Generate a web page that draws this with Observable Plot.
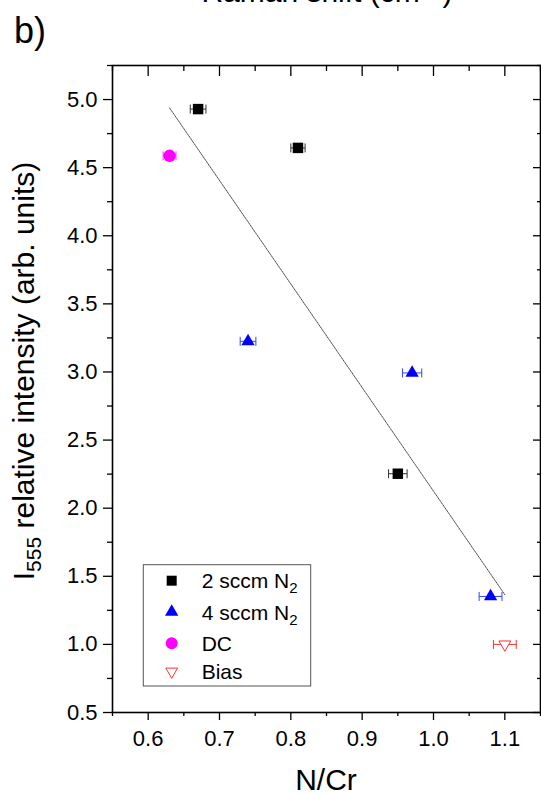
<!DOCTYPE html>
<html><head><meta charset="utf-8">
<script src="https://cdn.jsdelivr.net/npm/d3@7"></script>
<script src="https://cdn.jsdelivr.net/npm/@observablehq/plot@0.6"></script>
<style>html,body{margin:0;padding:0;background:#fff;} #chart svg{display:block;}</style>
</head><body><div id="chart"></div>
<script>
// ---- data ----
const seriesNames = ["2 sccm N", "4 sccm N", "DC", "Bias"];
const sccm2X = [0.67, 0.81, 0.95];
const sccm2Y = [4.93, 4.645, 2.253];
const sccm2Err = [0.011, 0.010, 0.013];
const sccm4X = [0.74, 0.97, 1.08];
const sccm4Y = [3.225, 2.993, 1.352];
const sccm4Err = [0.011, 0.0135, 0.016];
const dcX = [0.63];
const dcY = [4.587];
const dcErr = [0.009];
const biasX = [1.10];
const biasY = [1.0];
const biasErr = [0.016];
const xMajor = [0.6, 0.7, 0.8, 0.9, 1.0, 1.1];
const xMinor = [0.55, 0.65, 0.75, 0.85, 0.95, 1.05, 1.15];
const yMajor = [0.5, 1.0, 1.5, 2.0, 2.5, 3.0, 3.5, 4.0, 4.5, 5.0];
const yMinor = [0.75, 1.25, 1.75, 2.25, 2.75, 3.25, 3.75, 4.25, 4.75, 5.25];

const FONT = "'Liberation Sans', Arial, Helvetica, sans-serif";
const COLORS = {s2: "#000000", s4: "#0000ff", dc: "#ff00ff", bias: "#ff3030"};
const ERRCOL = {s2: "#333333", s4: "#3344ff", dc: "#ff33ff", bias: "#ee3333"};

function pts(xs, ys, es, key) { return xs.map((x, i) => ({x, y: ys[i], e: es[i], key})); }
const s2 = pts(sccm2X, sccm2Y, sccm2Err, "s2");
const s4 = pts(sccm4X, sccm4Y, sccm4Err, "s4");
const dc = pts(dcX, dcY, dcErr, "dc");
const bias = pts(biasX, biasY, biasErr, "bias");
const all = [...s2, ...s4, ...dc, ...bias];

const cap = {draw(ctx) { ctx.moveTo(0, -4.5); ctx.lineTo(0, 4.5); }};

function errMarks(data, key) {
  return [
    Plot.link(data, {x1: d => d.x - d.e, x2: d => d.x + d.e, y1: "y", y2: "y", stroke: ERRCOL[key], strokeWidth: 1}),
    Plot.dot(data, {x: d => d.x - d.e, y: "y", symbol: cap, fill: "none", stroke: ERRCOL[key], strokeWidth: 1}),
    Plot.dot(data, {x: d => d.x + d.e, y: "y", symbol: cap, fill: "none", stroke: ERRCOL[key], strokeWidth: 1})
  ];
}

const chart = Plot.plot({
  width: 541, height: 793,
  marginTop: 65, marginLeft: 112, marginRight: 1, marginBottom: 81,
  x: {domain: [0.55, 1.15]},
  y: {domain: [0.5, 5.25]},
  style: {fontFamily: FONT, color: "#000", background: "#fff", overflow: "visible"},
  marks: [
    Plot.axisX({ticks: xMajor, tickSize: 8, tickPadding: 10, tickFormat: d3.format(".1f"), fontSize: 22, label: null, strokeWidth: 1.3}),
    Plot.axisX({ticks: xMinor, tickSize: 4, tickFormat: () => "", label: null, strokeWidth: 1.3}),
    Plot.axisX({anchor: "top", ticks: xMajor, tickSize: -10, tickFormat: () => "", label: null, strokeWidth: 1.3}),
    Plot.axisX({anchor: "top", ticks: xMinor, tickSize: -5, tickFormat: () => "", label: null, strokeWidth: 1.3}),
    Plot.axisY({ticks: yMajor, tickSize: 9, tickPadding: 6, tickFormat: d3.format(".1f"), fontSize: 22, label: null, strokeWidth: 1.3}),
    Plot.axisY({ticks: yMinor, tickSize: 5, tickFormat: () => "", label: null, strokeWidth: 1.3}),
    Plot.axisY({anchor: "right", ticks: yMajor, tickSize: -8, tickFormat: () => "", label: null, strokeWidth: 1.3}),
    Plot.axisY({anchor: "right", ticks: yMinor, tickSize: -4, tickFormat: () => "", label: null, strokeWidth: 1.3}),
    Plot.linearRegressionY(all, {x: "x", y: "y", ci: 0, stroke: "#333", strokeWidth: 0.9, strokeDasharray: "1,1"}),
    ...errMarks(s2, "s2"),
    ...errMarks(s4, "s4"),
    ...errMarks(dc, "dc"),
    ...errMarks(bias, "bias"),
    Plot.dot(s2, {x: "x", y: "y", symbol: "square", r: 5.9, fill: COLORS.s2}),
    Plot.dot(s4, {x: "x", y: "y", symbol: "triangle", r: 4.95, fill: COLORS.s4}),
    Plot.dot(dc, {x: "x", y: "y", symbol: "circle", r: 6.2, fill: COLORS.dc}),
    Plot.dot(bias, {x: "x", y: "y", symbol: "triangle", rotate: 180, r: 4.4, fill: "#fff", stroke: COLORS.bias, strokeWidth: 1}),
    Plot.frame({stroke: "#000", strokeWidth: 1.6})
  ]
});
document.getElementById("chart").appendChild(chart);

// ---- annotations ----
const svg = d3.select(chart);
svg.append("text").attr("x", 14).attr("y", 43).attr("text-anchor", "start").attr("font-size", 36)
  .attr("font-family", FONT).attr("fill", "#000").text("b)");

const topTitle = svg.append("text").attr("x", 327).attr("y", 1.5).attr("text-anchor", "middle")
  .attr("font-size", 30).attr("font-family", FONT).attr("fill", "#000");
topTitle.append("tspan").text("Raman shift (cm");
topTitle.append("tspan").attr("font-size", 20).attr("dy", -12).text("−1");
topTitle.append("tspan").attr("dy", 12).text(")");

svg.append("text").attr("x", 326).attr("y", 790).attr("text-anchor", "middle")
  .attr("font-size", 30).attr("font-family", FONT).attr("fill", "#000").text("N/Cr");

const yt = svg.append("text").attr("transform", "translate(33.5,371) rotate(-90)").attr("text-anchor", "middle")
  .attr("font-size", 30).attr("font-family", FONT).attr("fill", "#000");
yt.append("tspan").text("I");
yt.append("tspan").attr("font-size", 21).attr("dy", 7).text("555");
yt.append("tspan").attr("dy", -7).text(" relative intensity (arb. units)");

// legend
const lg = svg.append("g").attr("font-family", FONT).attr("font-size", 21).attr("text-anchor", "start");
lg.append("rect").attr("x", 143.3).attr("y", 564.7).attr("width", 167.4).attr("height", 121.3)
  .attr("fill", "#fff").attr("stroke", "#555").attr("stroke-width", 1);
const legendRows = [
  {name: seriesNames[0], sub: "2", type: d3.symbolSquare, size: 100, fill: COLORS.s2, stroke: "none", rot: 0, cy: 580.7},
  {name: seriesNames[1], sub: "2", type: d3.symbolTriangle, size: 77, fill: COLORS.s4, stroke: "none", rot: 0, cy: 612},
  {name: seriesNames[2], sub: null, type: d3.symbolCircle, size: 113, fill: COLORS.dc, stroke: "none", rot: 0, cy: 643.3},
  {name: seriesNames[3], sub: null, type: d3.symbolTriangle, size: 60, fill: "#fff", stroke: COLORS.bias, rot: 180, cy: 671.5}
];
legendRows.forEach(r => {
  lg.append("path").attr("d", d3.symbol(r.type, r.size)())
    .attr("transform", `translate(171.7,${r.cy}) rotate(${r.rot})`)
    .attr("fill", r.fill).attr("stroke", r.stroke).attr("stroke-width", 1);
  const t = lg.append("text").attr("x", 201.7).attr("y", r.cy + 7.5).attr("text-anchor", "start").attr("fill", "#000");
  t.append("tspan").text(r.name);
  if (r.sub) t.append("tspan").attr("font-size", 15).attr("dy", 5).text(r.sub);
});
</script>
</body></html>
